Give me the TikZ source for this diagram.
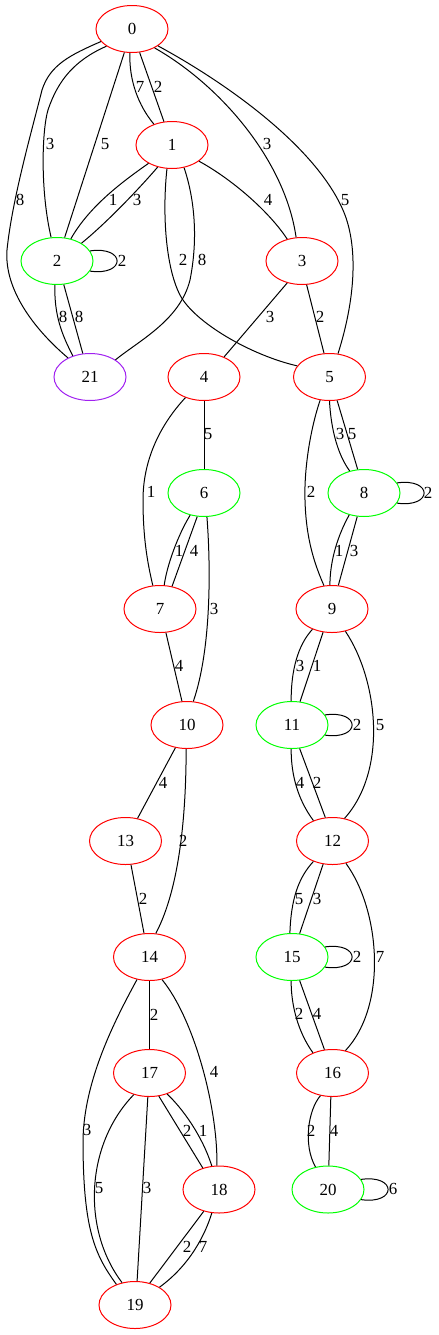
\documentclass[tikz,border=0pt]{standalone}
\usepackage{fontspec}
\setmainfont{Liberation Serif}
\usetikzlibrary{shapes.geometric}
\definecolor{gvgreen}{RGB}{0,255,0}
\definecolor{gvred}{RGB}{255,0,0}
\definecolor{gvpurple}{RGB}{160,32,240}
\begin{document}
\begin{tikzpicture}[x=0.75pt,y=-0.75pt,
  vtx/.style={ellipse,draw,line width=0.75pt,minimum width=54pt,minimum height=35.25pt,inner sep=0pt,font=\fontsize{12.7}{14}\selectfont},
  rv/.style={vtx,draw=gvred},
  gv/.style={vtx,draw=gvgreen},
  pv/.style={vtx,draw=gvpurple},
  lbl/.style={font=\fontsize{12.7}{14}\selectfont,inner sep=0pt},
  edge/.style={line width=0.75pt,black}]
\useasboundingbox (0,0) rectangle (439,1335);
% vertices
\node[rv] (n0) at (132,29) {0};
\node[rv] (n1) at (172,145) {1};
\node[gv] (n2) at (57,261) {2};
\node[rv] (n3) at (302,261) {3};
\node[pv] (n21) at (90,377) {21};
\node[rv] (n4) at (204,377) {4};
\node[rv] (n5) at (329.5,377) {5};
\node[gv] (n6) at (204,493) {6};
\node[gv] (n8) at (364,493) {8};
\node[rv] (n7) at (160,609) {7};
\node[rv] (n9) at (332,609) {9};
\node[rv] (n10) at (187,725) {10};
\node[gv] (n11) at (292,725) {11};
\node[rv] (n13) at (125.5,841) {13};
\node[rv] (n12) at (332.5,841) {12};
\node[rv] (n14) at (149.5,957) {14};
\node[gv] (n15) at (292,957) {15};
\node[rv] (n17) at (149.5,1073) {17};
\node[rv] (n16) at (332.5,1073) {16};
\node[rv] (n18) at (219,1189.5) {18};
\node[gv] (n20) at (328,1189.5) {20};
\node[rv] (n19) at (135,1305) {19};
% edges
\draw[edge] (n0.202) .. controls (70,55) and (50,65) .. (42,90) .. controls (32,130) and (12,200) .. (7,250) .. controls (4,290) and (35,330) .. (n21.139);
\draw[edge] (n0.214) .. controls (75,60) and (58,80) .. (48,110) .. controls (42,130) and (40,190) .. (n2.104);
\draw[edge] (n0.252) -- (n2.72);
\draw[edge] (n0.265) .. controls (129,80) and (138,105) .. (n1.131);
\draw[edge] (n0.288) -- (n1.109);
\draw[edge] (n0.320) .. controls (220,85) and (285,160) .. (n3.104);
\draw[edge] (n0.327) .. controls (230,85) and (320,150) .. (345,215) .. controls (358,250) and (355,300) .. (n5.70);
\draw[edge] (n1.218) .. controls (125,180) and (90,205) .. (n2.58);
\draw[edge] (n1.237) .. controls (145,182) and (110,220) .. (n2.36);
\draw[edge] (n1.258) .. controls (162,215) and (166,268) .. (180,295) .. controls (194,322) and (250,355) .. (n5.161);
\draw[edge] (n1.298) .. controls (195,200) and (198,240) .. (190,280) .. controls (180,320) and (140,340) .. (n21.34);
\draw[edge] (n1.329) .. controls (230,178) and (268,210) .. (n3.124);
\draw[edge] (n2.17) .. controls +(36,-5) and +(36,5) .. (n2.343);
\draw[edge] (n2.265) .. controls (54,315) and (62,335) .. (n21.129);
\draw[edge] (n2.286) -- (n21.107);
\draw[edge] (n3.236) -- (n4.45);
\draw[edge] (n3.281) -- (n5.103);
\draw[edge] (n4) -- (n6);
\draw[edge] (n4.228) .. controls (160,425) and (143,460) .. (143,500) .. controls (143,540) and (148,565) .. (n7.107);
\draw[edge] (n5.270) .. controls (331,430) and (338,455) .. (n8.123);
\draw[edge] (n5.288) -- (n8.105);
\draw[edge] (n5.248) .. controls (310,430) and (304,470) .. (305,500) .. controls (306,540) and (315,565) .. (n9.109);
\draw[edge] (n8.17) .. controls +(36,-5) and +(36,5) .. (n8.343);
\draw[edge] (n8.236) .. controls (338,535) and (330,560) .. (n9.95);
\draw[edge] (n8.254) -- (n9.75);
\draw[edge] (n6.238) .. controls (178,535) and (167,565) .. (n7.80);
\draw[edge] (n6.254) -- (n7.62);
\draw[edge] (n6.277) .. controls (211,570) and (211,650) .. (n10.75);
\draw[edge] (n7.284) -- (n10.102);
\draw[edge] (n9.226) .. controls (298,645) and (291,670) .. (n11.92);
\draw[edge] (n9.249) -- (n11.71);
\draw[edge] (n9.301) .. controls (378,680) and (388,770) .. (n12.62);
\draw[edge] (n11.17) .. controls +(36,-5) and +(36,5) .. (n11.343);
\draw[edge] (n11.268) .. controls (291,775) and (298,800) .. (n12.133);
\draw[edge] (n11.288) -- (n12.107);
\draw[edge] (n10.243) -- (n13.62);
\draw[edge] (n10.268) .. controls (186,790) and (184,880) .. (n14.75);
\draw[edge] (n13.283) -- (n14.103);
\draw[edge] (n12.227) .. controls (298,878) and (291,900) .. (n15.95);
\draw[edge] (n12.248) -- (n15.72);
\draw[edge] (n12.301) .. controls (380,910) and (388,1005) .. (n16.60);
\draw[edge] (n15.17) .. controls +(36,-5) and +(36,5) .. (n15.343);
\draw[edge] (n15.268) .. controls (291,1005) and (298,1032) .. (n16.134);
\draw[edge] (n15.288) -- (n16.109);
\draw[edge] (n14) -- (n17);
\draw[edge] (n14.299) .. controls (195,1020) and (218,1110) .. (n18.95);
\draw[edge] (n14.241) .. controls (115,1020) and (84,1080) .. (83,1140) .. controls (83,1230) and (95,1255) .. (n19.132);
\draw[edge] (n17.234) .. controls (85,1145) and (82,1230) .. (n19.120);
\draw[edge] (n17.266) -- (n19.85);
\draw[edge] (n17.292) -- (n18.127);
\draw[edge] (n17.310) .. controls (182,1108) and (202,1135) .. (n18.107);
\draw[edge] (n18.235) -- (n19.56);
\draw[edge] (n18.253) .. controls (205,1235) and (190,1265) .. (n19.36);
\draw[edge] (n16.242) .. controls (308,1110) and (303,1145) .. (n20.119);
\draw[edge] (n16.266) -- (n20.88);
\draw[edge] (n20.17) .. controls +(36,-5) and +(36,5) .. (n20.343);
% edge labels
\node[lbl] (l1) at (20,200) {8};
\node[lbl] (l2) at (50,144) {3};
\node[lbl] (l3) at (105,144) {5};
\node[lbl] (l4) at (140,87) {7};
\node[lbl] (l5) at (158,87) {2};
\node[lbl] (l6) at (267,144) {3};
\node[lbl] (l7) at (345,200) {5};
\node[lbl] (l8) at (113,200) {1};
\node[lbl] (l9) at (137,200) {3};
\node[lbl] (l10) at (183,260) {2};
\node[lbl] (l11) at (202,260) {8};
\node[lbl] (l12) at (268,200) {4};
\node[lbl] (l13) at (122,261) {2};
\node[lbl] (l14) at (63,317) {8};
\node[lbl] (l15) at (79,317) {8};
\node[lbl] (l16) at (270,317) {3};
\node[lbl] (l17) at (320,317) {2};
\node[lbl] (l18) at (208,434) {5};
\node[lbl] (l19) at (151,492) {1};
\node[lbl] (l20) at (340,434) {3};
\node[lbl] (l21) at (352,434) {5};
\node[lbl] (l22) at (311,492) {2};
\node[lbl] (l23) at (428,493) {2};
\node[lbl] (l24) at (339,551) {1};
\node[lbl] (l25) at (354,551) {3};
\node[lbl] (l26) at (179,551) {1};
\node[lbl] (l27) at (194,551) {4};
\node[lbl] (l28) at (214,609) {3};
\node[lbl] (l29) at (179,666) {4};
\node[lbl] (l30) at (300,666) {3};
\node[lbl] (l31) at (317,666) {1};
\node[lbl] (l32) at (380,725) {5};
\node[lbl] (l33) at (357,725) {2};
\node[lbl] (l34) at (300,783) {4};
\node[lbl] (l35) at (317,783) {2};
\node[lbl] (l36) at (163,783) {4};
\node[lbl] (l37) at (183,841) {2};
\node[lbl] (l38) at (143,899) {2};
\node[lbl] (l39) at (299,899) {5};
\node[lbl] (l40) at (317,899) {3};
\node[lbl] (l41) at (380,957) {7};
\node[lbl] (l42) at (357,957) {2};
\node[lbl] (l43) at (299,1014) {2};
\node[lbl] (l44) at (317,1014) {4};
\node[lbl] (l45) at (154,1015) {2};
\node[lbl] (l46) at (214,1072) {4};
\node[lbl] (l47) at (87,1130) {3};
\node[lbl] (l48) at (99,1188) {5};
\node[lbl] (l49) at (147,1188) {3};
\node[lbl] (l50) at (187,1131) {2};
\node[lbl] (l51) at (203,1131) {1};
\node[lbl] (l52) at (187,1247) {2};
\node[lbl] (l53) at (203,1247) {7};
\node[lbl] (l54) at (311,1131) {2};
\node[lbl] (l55) at (334,1131) {4};
\node[lbl] (l56) at (393,1189) {6};
\end{tikzpicture}
\end{document}
